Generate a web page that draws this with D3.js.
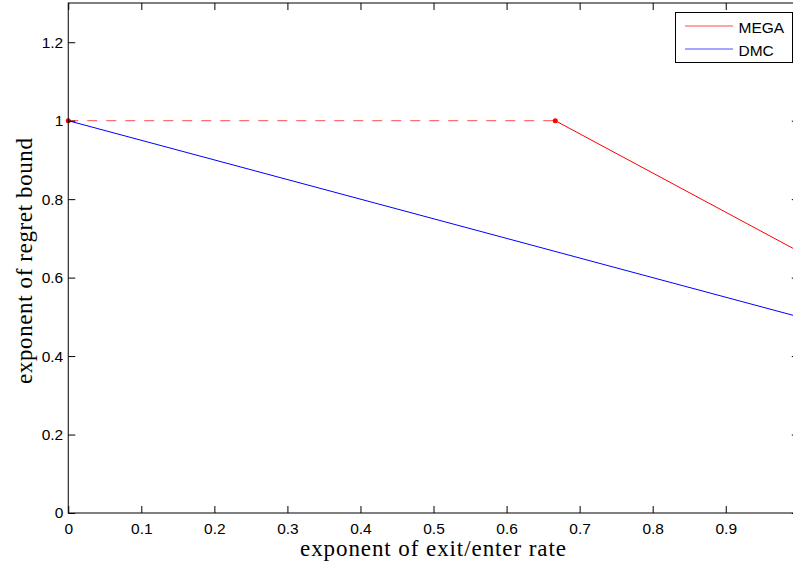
<!DOCTYPE html>
<html>
<head>
<meta charset="utf-8">
<script src="https://cdnjs.cloudflare.com/ajax/libs/d3/7.8.5/d3.min.js"></script>
<style>
  body { margin: 0; background: #fff; }
  svg { display: block; }
  .tick text, .legend-text { font-family: "Liberation Sans", Arial, sans-serif; font-size: 15.5px; }
</style>
</head>
<body>
<script>
var width = 793, height = 564;

// data
var xTicks = [0, 0.1, 0.2, 0.3, 0.4, 0.5, 0.6, 0.7, 0.8, 0.9];
var yTicks = [0, 0.2, 0.4, 0.6, 0.8, 1, 1.2];
var megaDashed = [[0, 1], [2/3, 1]];
var megaSolid = [[2/3, 1], [1, 2/3]];
var megaDots = [[0, 1], [2/3, 1]];
var dmc = [[0, 1], [1, 0.5]];
var legendNames = ['MEGA', 'DMC'];
var legendColors = ['#ff0000', '#0000ff'];

var x = d3.scaleLinear().domain([0, 1]).range([68.25, 798.8]);
var y = d3.scaleLinear().domain([0, 1.3]).range([513, 3]);

var svg = d3.select('body').append('svg')
  .attr('width', width)
  .attr('height', height);

var line = d3.line()
  .x(function (d) { return x(d[0]); })
  .y(function (d) { return y(d[1]); });

var plot = svg.append('g');

plot.append('path').datum(megaDashed)
  .attr('d', line)
  .attr('fill', 'none')
  .attr('stroke', '#ff0000')
  .attr('stroke-opacity', 0.7)
  .attr('stroke-width', 1)
  .attr('stroke-dasharray', '10,9');

plot.append('path').datum(megaSolid)
  .attr('d', line)
  .attr('fill', 'none')
  .attr('stroke', '#ff0000')
  .attr('stroke-width', 1);

plot.append('path').datum(dmc)
  .attr('d', line)
  .attr('fill', 'none')
  .attr('stroke', '#0000ff')
  .attr('stroke-width', 1);

plot.selectAll('circle.dot').data(megaDots).enter().append('circle')
  .attr('class', 'dot')
  .attr('cx', function (d) { return x(d[0]); })
  .attr('cy', function (d) { return y(d[1]); })
  .attr('r', 2.5)
  .attr('fill', '#ff0000');

// axes (matlab style box, ticks inward)
var labelFont = '23px "Liberation Serif", "Times New Roman", serif';
var fmt = function (d) { return d3.format('~g')(d); };

var xAxis = svg.append('g')
  .attr('transform', 'translate(0,' + y(0) + ')')
  .call(d3.axisBottom(x).tickValues(xTicks).tickSize(-7).tickPadding(9.5).tickFormat(fmt));
xAxis.select('.domain').remove();

var xTop = svg.append('g')
  .attr('transform', 'translate(0,' + y(1.3) + ')')
  .call(d3.axisTop(x).tickValues(xTicks).tickSize(-7).tickFormat(''));
xTop.select('.domain').remove();

var yAxis = svg.append('g')
  .attr('transform', 'translate(' + x(0) + ',0)')
  .call(d3.axisLeft(y).tickValues(yTicks).tickSize(-7).tickPadding(5).tickFormat(fmt));
yAxis.select('.domain').remove();

var yRight = svg.append('g')
  .attr('transform', 'translate(' + x(1) + ',0)')
  .call(d3.axisRight(y).tickValues(yTicks).tickSize(-7).tickFormat(''));
yRight.select('.domain').remove();

svg.selectAll('.tick text')
  .attr('font-size', 15.5)
  .attr('fill', '#000');
svg.selectAll('.tick line').attr('stroke', '#000');

svg.append('rect')
  .attr('x', x(0)).attr('y', y(1.3))
  .attr('width', x(1) - x(0)).attr('height', y(0) - y(1.3))
  .attr('fill', 'none').attr('stroke', '#000').attr('stroke-width', 1);

// axis labels
svg.append('text')
  .attr('x', 433).attr('y', 556)
  .attr('text-anchor', 'middle')
  .attr('textLength', 266)
  .attr('lengthAdjust', 'spacing')
  .style('font', labelFont)
  .text('exponent of exit/enter rate');

svg.append('text')
  .attr('transform', 'translate(32,261) rotate(-90)')
  .attr('text-anchor', 'middle')
  .attr('textLength', 246)
  .attr('lengthAdjust', 'spacing')
  .style('font', labelFont)
  .text('exponent of regret bound');

// legend
var legendData = legendNames.map(function (n, i) { return { name: n, color: legendColors[i] }; });

var legend = svg.append('g').attr('transform', 'translate(675.5,12.5)');
legend.append('rect')
  .attr('width', 117).attr('height', 50)
  .attr('fill', '#fff').attr('stroke', '#000').attr('stroke-width', 1);

var items = legend.selectAll('g.item').data(legendData).enter().append('g')
  .attr('class', 'item')
  .attr('transform', function (d, i) { return 'translate(0,' + (13.5 + i * 23) + ')'; });

items.append('line')
  .attr('x1', 9.5).attr('x2', 57.5)
  .attr('y1', 0).attr('y2', 0)
  .style('stroke', function (d) { return d.color; })
  .style('stroke-opacity', 0.7)
  .style('stroke-width', 1);

items.append('text')
  .attr('class', 'legend-text')
  .attr('x', 63).attr('y', 7)
  .text(function (d) { return d.name; });
</script>
</body>
</html>
